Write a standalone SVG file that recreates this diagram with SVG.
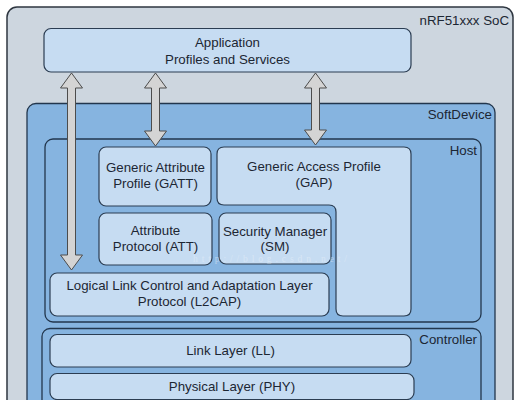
<svg xmlns="http://www.w3.org/2000/svg" width="528" height="400" viewBox="0 0 528 400">
<style>
.t{font-family:"Liberation Sans",Arial,sans-serif;font-size:13.3px;fill:#1c2633;text-anchor:middle}
.r{text-anchor:end}
.box{fill:#c6dcf2;stroke:#2b3d52;stroke-width:1.2}
.cont{fill:#86b4e0;stroke:#22364d;stroke-width:1.3}
.arr{fill:#d4d4d4;stroke:#4c4c4c;stroke-width:1}
</style>
<rect width="528" height="400" fill="#ffffff"/>
<g id="soc">
<rect x="7" y="7" width="506" height="410" rx="10" fill="#cdd6df" stroke="#2e3640" stroke-width="1.5"/>
<text class="t r" x="509" y="24.5">nRF51xxx SoC</text>
</g>
<g id="application">
<rect class="box" x="44" y="28.5" width="367" height="43.5" rx="7"/>
<text class="t" x="227.5" y="46.5">Application</text>
<text class="t" x="227.5" y="63.5">Profiles and Services</text>
</g>
<g id="softdevice">
<rect class="cont" x="27" y="103.5" width="468" height="320" rx="9"/>
<text class="t r" x="492" y="119">SoftDevice</text>
</g>
<g id="host">
<rect class="cont" x="45" y="139" width="436" height="183" rx="8"/>
<text class="t r" x="477" y="155">Host</text>
</g>
<g id="controller">
<rect class="cont" x="42" y="328.5" width="439" height="90" rx="8"/>
<text class="t r" x="477" y="344">Controller</text>
</g>
<g id="connectors">
<polygon class="arr" points="71.5,73 82.5,88 75.5,88 75.5,255 82.5,255 71.5,270 60.5,255 67.5,255 67.5,88 60.5,88"/>
<polygon class="arr" points="155.5,73 166.5,88 159.5,88 159.5,131 166.5,131 155.5,146 144.5,131 151.5,131 151.5,88 144.5,88"/>
<polygon class="arr" points="315.5,73 326.5,88 319.5,88 319.5,130 326.5,130 315.5,145 304.5,130 311.5,130 311.5,88 304.5,88"/>
</g>
<g id="gatt">
<rect class="box" x="99" y="147" width="112" height="59" rx="7"/>
<text class="t" x="155.5" y="172">Generic Attribute</text>
<text class="t" x="155.5" y="188">Profile (GATT)</text>
</g>
<g id="gap">
<path class="box" d="M224,147 H404 Q411,147 411,154 V309 Q411,316 404,316 H343 Q336,316 336,309 V212 Q336,205 329,205 H224 Q217,205 217,198 V154 Q217,147 224,147 Z"/>
<text class="t" x="314" y="171">Generic Access Profile</text>
<text class="t" x="314" y="187">(GAP)</text>
</g>
<g id="att">
<rect class="box" x="99" y="213" width="113" height="52" rx="7"/>
<text class="t" x="155.5" y="235">Attribute</text>
<text class="t" x="155.5" y="251">Protocol (ATT)</text>
</g>
<g id="sm">
<rect class="box" x="219" y="213" width="112" height="51" rx="7"/>
<text class="t" x="275" y="236">Security Manager</text>
<text class="t" x="275" y="251">(SM)</text>
</g>
<text x="193" y="262" textLength="154" font-family="Liberation Serif,serif" font-size="9.5" fill="#e8f0f8" opacity="0.5">http://blog.csdn.net/</text>
<g id="l2cap">
<rect class="box" x="50" y="273" width="279" height="43" rx="7"/>
<text class="t" x="189.5" y="290">Logical Link Control and Adaptation Layer</text>
<text class="t" x="189.5" y="306">Protocol (L2CAP)</text>
</g>
<g id="ll">
<rect class="box" x="50" y="334.5" width="361" height="32.5" rx="7"/>
<text class="t" x="230.5" y="355">Link Layer (LL)</text>
</g>
<g id="phy">
<rect class="box" x="50" y="373.5" width="364" height="26" rx="7"/>
<text class="t" x="232" y="391">Physical Layer (PHY)</text>
</g>
</svg>
